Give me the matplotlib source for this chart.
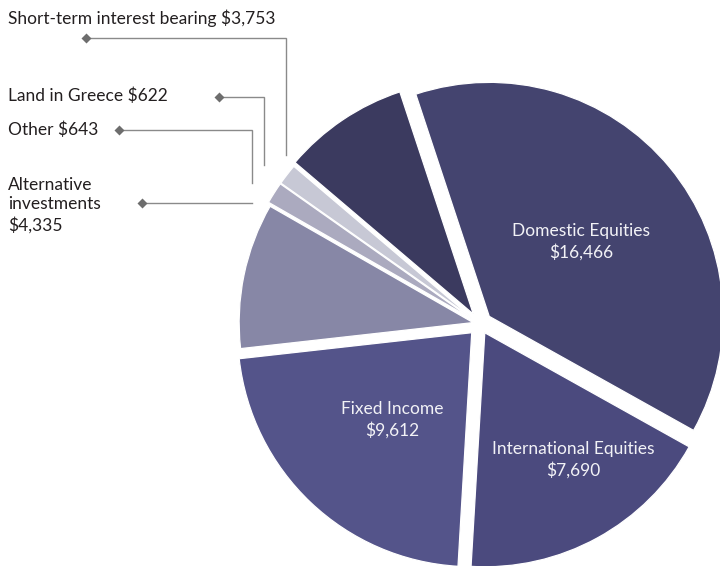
import matplotlib.pyplot as plt
import numpy as np

labels = ["Domestic Equities", "International Equities", "Fixed Income",
          "Alternative investments", "Other", "Land in Greece",
          "Short-term interest bearing"]
values = [16466, 7690, 9612, 4335, 643, 622, 3753]
colors = ["#44446f", "#4b4a7e", "#54548a", "#8787a6", "#abaabf", "#c7c8d5", "#3b3a5f"]

W, H = 720, 566
R = 234.0
cx, cy = 480, H - 324
# explode offsets, pixels (pie uses data units here, 1 unit = 1 px)
explode = [12, 10, 12, 7, 10, 10, 12]

plt.rcParams['font.family'] = ['Lato', 'DejaVu Sans']

fig = plt.figure(figsize=(7.2, 5.66), dpi=100)
ax = fig.add_axes([0, 0, 1, 1])
wedges, _ = ax.pie(values, colors=colors, explode=explode, radius=R,
                   center=(cx, cy), startangle=108.3, counterclock=False,
                   wedgeprops=dict(linewidth=0.9, edgecolor="white"))
ax.set_xlim(0, W)
ax.set_ylim(0, H)
ax.set_aspect('equal')
ax.axis('off')

def fmt(v):
    return "${:,}".format(v)

# labels inside the big slices (image coords -> data)
inside = {0: (581, 242), 1: (573, 460), 2: (392, 420)}
for i, (x, y) in inside.items():
    ax.text(x, H - y, labels[i] + "\n" + fmt(values[i]), color="#f2f2f6",
            fontsize=12.5, ha="center", va="center", linespacing=1.35)

# outside labels with leader lines
txt = "#231f20"
line_c = "#8a8a8a"
ax.text(8, H - 18, labels[6] + " " + fmt(values[6]), color=txt, fontsize=12.5,
        ha="left", va="center")
ax.text(8, H - 96, labels[5] + " " + fmt(values[5]), color=txt, fontsize=12.5,
        ha="left", va="center")
ax.text(8, H - 130, labels[4] + " " + fmt(values[4]), color=txt, fontsize=12.5,
        ha="left", va="center")
ax.text(8, H - 205, "Alternative\ninvestments\n" + fmt(values[3]), color=txt,
        fontsize=12.5, ha="left", va="center", linespacing=1.3)

leaders = [
    [(86, 38), (286, 38), (286, 155)],
    [(219, 97), (264, 97), (264, 165)],
    [(119, 130), (252, 130), (252, 183)],
    [(142, 203), (252, 203)],
]
for pts in leaders:
    xs = [p[0] for p in pts]
    ys = [H - p[1] for p in pts]
    ax.plot(xs, ys, color=line_c, lw=1.0, solid_joinstyle="miter")
    ax.plot(xs[0], ys[0], marker="D", ms=5, color="#6d6d6d", mec="none")

fig.savefig("out.png", dpi=100)
